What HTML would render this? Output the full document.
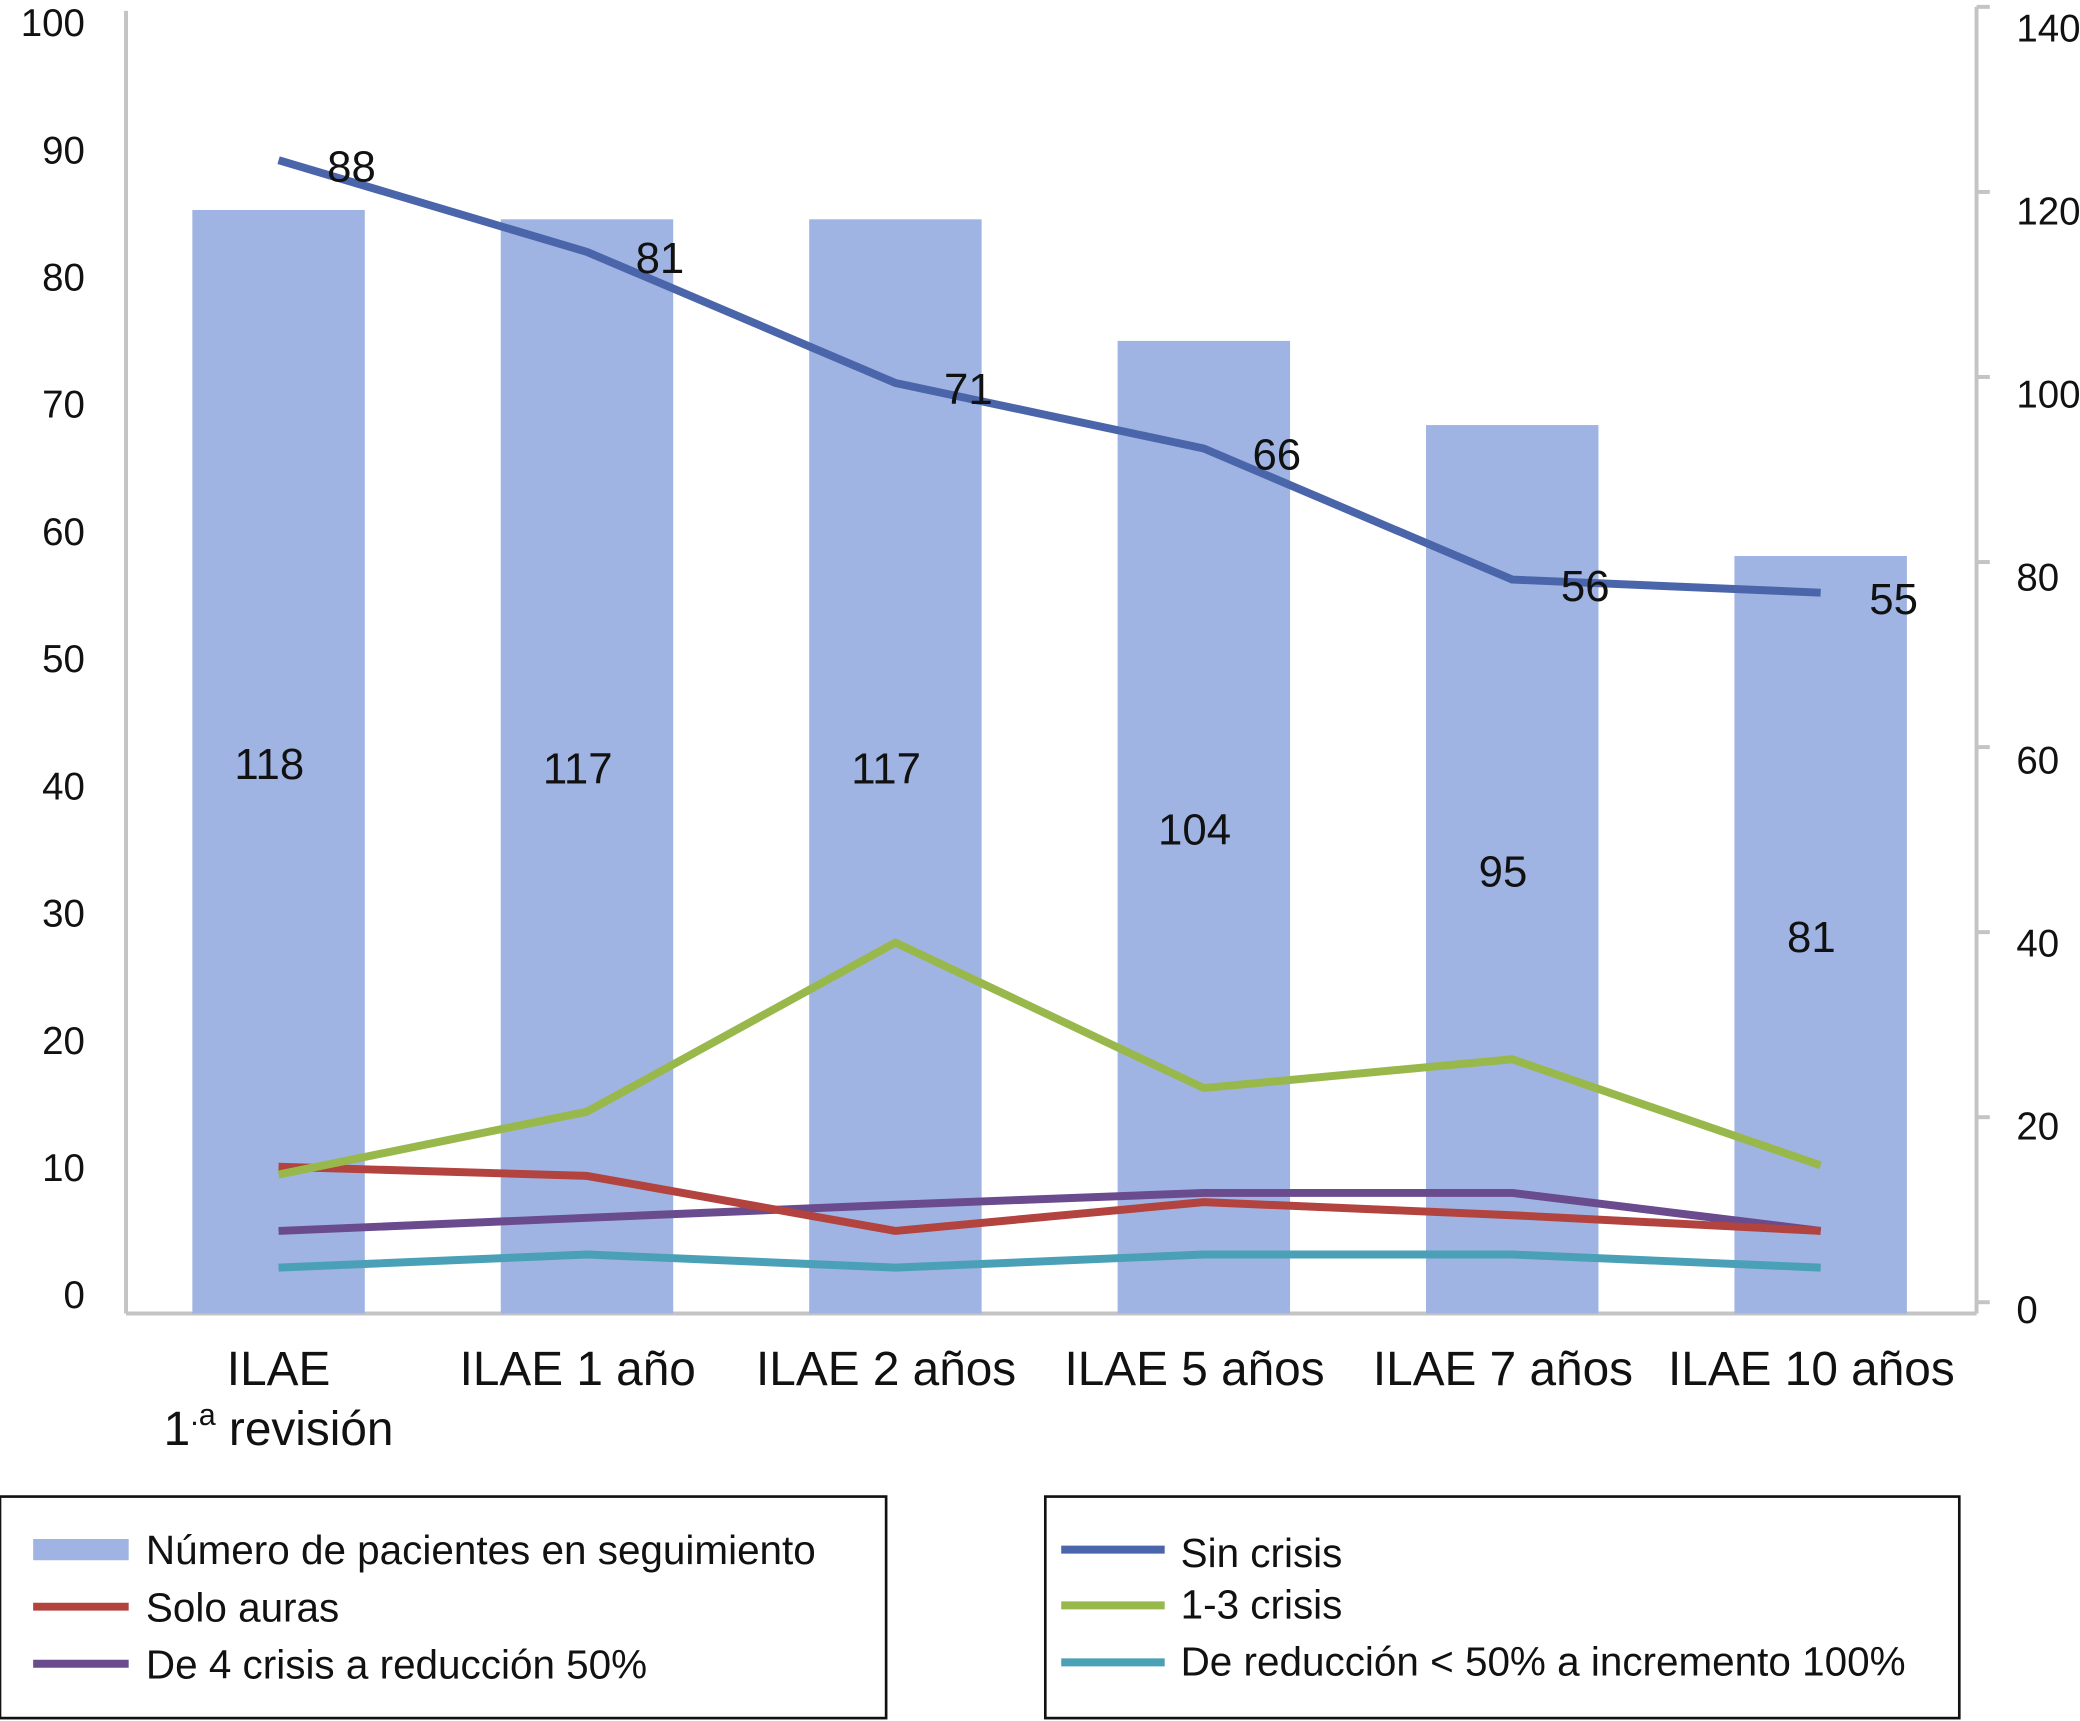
<!DOCTYPE html>
<html><head><meta charset="utf-8"><style>html,body{margin:0;padding:0;background:#fff}svg{display:block}text{font-family:"Liberation Sans",sans-serif;fill:#111}</style></head>
<body>
<svg id="chart" width="2080" height="1721" viewBox="0 0 1568 1297" xmlns="http://www.w3.org/2000/svg">
<g id="axes"></g>
<g id="bars"></g>
<g id="lines"></g>
<g id="labels"></g>
<g>
<rect x="0" y="1128" width="668" height="167" fill="none" stroke="#111" stroke-width="2"/>
<rect x="25" y="1160" width="72" height="16" fill="#9fb4e2"/>
<text x="110" y="1179" font-size="30.5">Número de pacientes en seguimiento</text>
<line x1="25" y1="1211" x2="97" y2="1211" stroke="#b2433f" stroke-width="6"/>
<text x="110" y="1222" font-size="30.5">Solo auras</text>
<line x1="25" y1="1254" x2="97" y2="1254" stroke="#6a4b8e" stroke-width="6"/>
<text x="110" y="1265" font-size="30.5">De 4 crisis a reducción 50%</text>
</g>
<g>
<rect x="788" y="1128" width="689" height="167" fill="none" stroke="#111" stroke-width="2"/>
<line x1="800" y1="1168" x2="878" y2="1168" stroke="#4b65aa" stroke-width="6"/>
<text x="890" y="1181" font-size="30.5">Sin crisis</text>
<line x1="800" y1="1210" x2="878" y2="1210" stroke="#99b84b" stroke-width="6"/>
<text x="890" y="1220" font-size="30.5">1-3 crisis</text>
<line x1="800" y1="1253" x2="878" y2="1253" stroke="#4aa0b6" stroke-width="6"/>
<text x="890" y="1263" font-size="30.5">De reducción &lt; 50% a incremento 100%</text>
</g>
</svg>
<script>
const categories = ["ILAE 1.a revisión","ILAE 1 año","ILAE 2 años","ILAE 5 años","ILAE 7 años","ILAE 10 años"];
const patients = [118,117,117,104,95,81];
const sinCrisis = [88,81,71,66,56,55];
const crisis13 = [10.6,15.4,28.3,17.2,19.4,11.3];
const soloAuras = [11.2,10.5,6.3,8.5,7.5,6.3];
const cuatroCrisis = [6.3,7.3,8.3,9.2,9.2,6.3];
const reduccion = [3.5,4.5,3.5,4.5,4.5,3.5];
const leftTicks = [0,10,20,30,40,50,60,70,80,90,100];
const rightTicks = [0,20,40,60,80,100,120,140];

const NS="http://www.w3.org/2000/svg";
const BASE=990;
function x(i){return 210+i*232.5;}
function yL(v){return BASE-v*9.88;}
function yR(v){return BASE-v*7.05;}
function yLlabel(v){return 975-v*9.59;}
function yRtick(v){return 5+(140-v)*6.975;}
function yRlabel(v){return 20+(140-v)*6.9;}
function mk(parent,tag,attrs,txt){const e=document.createElementNS(NS,tag);for(const k in attrs)e.setAttribute(k,attrs[k]);if(txt!==undefined)e.textContent=txt;parent.appendChild(e);return e;}
const axes=document.getElementById('axes'),bars=document.getElementById('bars'),lines=document.getElementById('lines'),labels=document.getElementById('labels');
mk(axes,'line',{x1:95,y1:8,x2:95,y2:BASE,stroke:'#c4c4c4','stroke-width':3});
mk(axes,'line',{x1:95,y1:BASE,x2:1490,y2:BASE,stroke:'#c4c4c4','stroke-width':3});
mk(axes,'line',{x1:1490,y1:5,x2:1490,y2:BASE,stroke:'#c4c4c4','stroke-width':3});
leftTicks.forEach(v=>{
  const t=mk(axes,'text',{x:64,y:yLlabel(v)+11,'font-size':29,'text-anchor':'end'},String(v));
  
  
});
rightTicks.forEach(v=>{
  const yy=yRtick(v);
  mk(axes,'line',{x1:1490,y1:yy,x2:1500,y2:yy,stroke:'#c4c4c4','stroke-width':3});
  const t=mk(axes,'text',{x:1520,y:yRlabel(v)+11,'font-size':29},String(v));
  
  
});
categories.forEach((c,i)=>{
  if(i===0){
    const t=mk(axes,'text',{x:x(i),y:1044,'font-size':36,'text-anchor':'middle'},'ILAE');
    
    
    const t2=mk(axes,'text',{x:x(i),y:1089,'font-size':36,'text-anchor':'middle'});
    
    
    t2.innerHTML='1<tspan font-size="23" dy="-15">.a</tspan><tspan dy="15"> revisión</tspan>';
  } else {
    const t=mk(axes,'text',{x:x(i)-7,y:1044,'font-size':36,'text-anchor':'middle'},c);
    
    
  }
});
patients.forEach((v,i)=>{
  const r=mk(bars,'rect',{x:x(i)-65,y:yR(v),width:130,height:BASE-yR(v),fill:'#9fb4e2'});
  
  
  const t=mk(labels,'text',{x:x(i)-7,y:(yR(v)+BASE)/2+13,'font-size':33,'text-anchor':'middle'},String(v));
  
  
});
function series(arr,color,name){
  const p=mk(lines,'polyline',{points:arr.map((v,i)=>x(i)+','+yL(v)).join(' '),fill:'none',stroke:color,'stroke-width':6,'stroke-linejoin':'round'});
  
  
}
series(reduccion,'#4aa0b6','line-reduccion');
series(cuatroCrisis,'#6a4b8e','line-4-crisis');
series(soloAuras,'#b2433f','line-solo-auras');
series(crisis13,'#99b84b','line-1-3-crisis');
series(sinCrisis,'#4b65aa','line-sin-crisis');
sinCrisis.forEach((v,i)=>{
  const t=mk(labels,'text',{x:x(i)+55,y:yL(v)+16,'font-size':33,'text-anchor':'middle'},String(v));
  
  
});
</script>
</body></html>
